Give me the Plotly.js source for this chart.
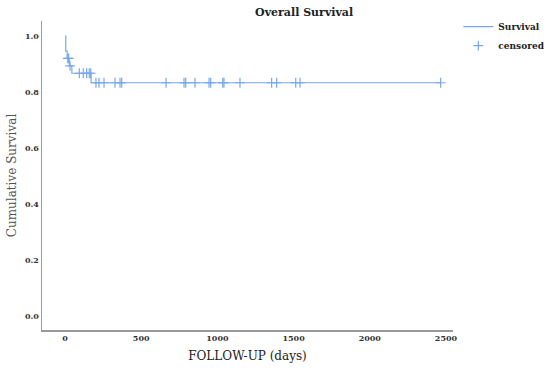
<!DOCTYPE html>
<html>
<head>
<meta charset="utf-8">
<script src="https://cdn.plot.ly/plotly-3.0.1.min.js"></script>
<style>html,body{margin:0;padding:0;background:#fff;}#chart{width:550px;height:371px;}</style>
</head>
<body>
<div id="chart"></div>
<script>
// Kaplan-Meier step curve (days, cumulative survival)
var stepDays = [0, 5, 14, 28, 45, 171, 2465];
var stepSurv = [1.0, 0.946, 0.92, 0.893, 0.867, 0.833, 0.833];
// Censored observations (days)
var censorDays = [18, 24, 33, 94, 120, 142, 159, 169, 203, 223, 256, 328, 361, 372, 663, 781, 792, 853, 945, 956, 1035, 1043, 1148, 1356, 1389, 1514, 1542, 2465];
var xTicks = [0, 500, 1000, 1500, 2000, 2500];
var yTicks = [0.0, 0.2, 0.4, 0.6, 0.8, 1.0];

function survAt(t) {
  var s = stepSurv[0];
  for (var i = 0; i < stepDays.length; i++) { if (stepDays[i] <= t) s = stepSurv[i]; }
  return s;
}
var censorSurv = censorDays.map(survAt);

var col = '#78a8ec';
var data = [
  {x: stepDays, y: stepSurv, mode: 'lines', line: {shape: 'hv', color: col, width: 1.2}, name: '<b>Survival</b>'},
  {x: censorDays, y: censorSurv, mode: 'markers', marker: {symbol: 'cross-thin', size: 7, line: {color: col, width: 1.2}, color: col}, name: '<b>censored</b>'}
];
var tickFont = {family: 'DejaVu Serif', size: 8, color: '#333'};
var layout = {
  width: 550, height: 371,
  margin: {l: 42, r: 97, t: 21, b: 41, autoexpand: false},
  paper_bgcolor: '#fff', plot_bgcolor: '#fff',
  showlegend: true,
  title: {text: '<b>Overall Survival</b>', font: {family: 'DejaVu Serif', size: 11, color: '#222'}, x: 0.553, xanchor: 'center', y: 0.968, yanchor: 'middle'},
  legend: {x: 1.013, xanchor: 'left', y: 1.029, yanchor: 'top', font: {family: 'DejaVu Serif', size: 9, color: '#222'}, tracegroupgap: 0, itemwidth: 30, bgcolor: 'rgba(0,0,0,0)'},
  xaxis: {
    range: [-151, 2546], tickvals: xTicks, ticktext: xTicks.map(function(v){return '<b>'+v+'</b>';}),
    showgrid: false, zeroline: false, showline: true, linecolor: '#999', linewidth: 1.5, ticks: '',
    tickfont: tickFont,
    title: {text: 'FOLLOW-UP (days)', font: {family: 'DejaVu Serif', size: 12, color: '#222'}, standoff: 9}
  },
  yaxis: {
    range: [-0.05, 1.0536], tickvals: yTicks, ticktext: yTicks.map(function(v){return '<b>'+v.toFixed(1)+'</b>';}),
    showgrid: false, zeroline: false, showline: true, linecolor: '#999', linewidth: 1.5, ticks: '',
    tickfont: tickFont,
    title: {text: 'Cumulative Survival', font: {family: 'DejaVu Serif', size: 12, color: '#555'}, standoff: 6}
  }
};
Plotly.newPlot('chart', data, layout, {displayModeBar: false, staticPlot: true});
</script>
</body>
</html>
